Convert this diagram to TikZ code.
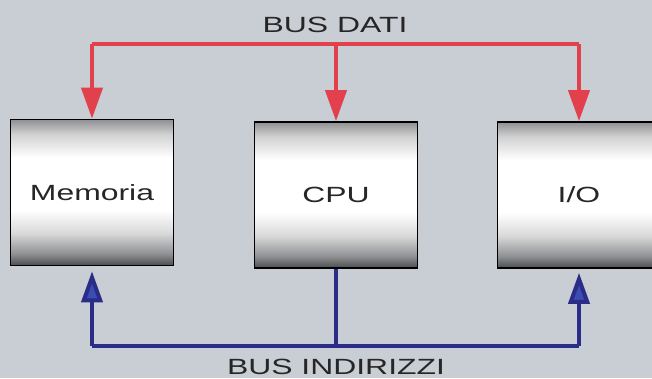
\documentclass[tikz,border=0pt]{standalone}
\usepackage{fontspec}
\newfontfamily\busfont[FakeStretch=1.45]{Liberation Sans}
\usetikzlibrary{arrows.meta,positioning}

\definecolor{bgpaper}{HTML}{C9CDD4}
\definecolor{datared}{HTML}{E2404C}
\definecolor{addrblue}{HTML}{2A2C88}
\definecolor{tipblue}{HTML}{3A4DB0}
\definecolor{boxdark}{HTML}{4A4C4E}
\definecolor{boxgrey}{HTML}{8E9093}

\pgfdeclareverticalshading{unitshade}{100bp}{%
  color(0bp)=(boxdark); color(25bp)=(boxdark); color(29bp)=(boxgrey);
  color(36bp)=(black!15); color(44bp)=(white); color(62bp)=(white);
  color(70bp)=(black!18); color(75bp)=(boxgrey); color(100bp)=(boxgrey)}

\begin{document}
\begin{tikzpicture}[
  x=1pt,y=-1pt,
  line cap=butt,
  line join=miter,
  font=\busfont\fontsize{22}{26}\selectfont,
  unit/.style={draw=black,line width=1.6pt,shading=unitshade,
    minimum width=163pt,minimum height=146pt,inner sep=0pt,text=black!85},
  databus/.style={draw=datared,line width=4pt},
  addrbus/.style={draw=addrblue,line width=4pt},
  downtip/.style={-{Triangle[length=31pt,width=21pt,fill=datared]}},
  uptip/.style={-{Triangle[length=31pt,width=21pt,fill=tipblue]}},
  buslabel/.style={text=black!85,inner sep=0pt}
]

% paper and frame
\useasboundingbox (0,0) rectangle (652,378);
\clip (0,0) rectangle (652,378);
\fill[bgpaper] (0,0) rectangle (652,378);

% the three units
\node[unit] (mem) at (92,192.5) {Memoria};
\node[unit] (cpu) at (336,195) {CPU};
\node[unit] (io)  at (579,195) {I/O};

% data bus (top)
\coordinate (dleft) at (92,44);
\coordinate (drgt)  at (579,44);
\node[buslabel] (datilbl) at (335,25) {BUS DATI};
\draw[databus] (dleft) -- (drgt);
\draw[databus,downtip] (dleft) -- (mem.north);
\draw[databus,downtip] (cpu.north |- dleft) -- (cpu.north);
\draw[databus,downtip] (drgt) -- (io.north);

% address bus (bottom)
\coordinate (aleft) at (92,346);
\coordinate (argt)  at (579,346);
\node[buslabel] (indlbl) at (336,367) {BUS INDIRIZZI};
\draw[addrbus] (aleft) -- (argt);
\draw[addrbus] (cpu.south) -- (cpu.south |- aleft);
\draw[addrbus,uptip] (aleft) -- ([yshift=-5pt]mem.south);
\draw[addrbus,uptip] (argt) -- ([yshift=-4pt]io.south);

\end{tikzpicture}
\end{document}
